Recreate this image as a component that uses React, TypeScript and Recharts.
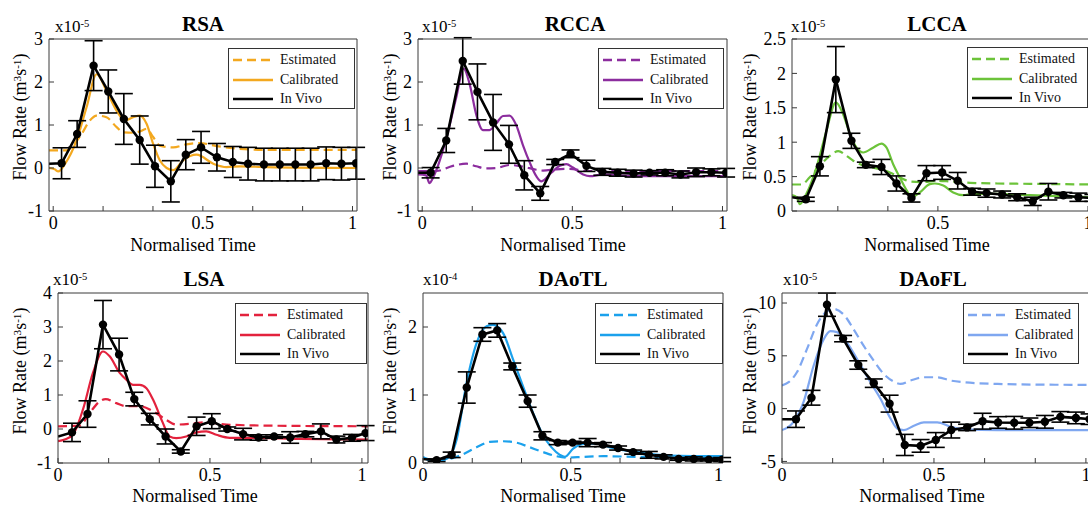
import React from 'react';
import { ComposedChart, Line, XAxis, YAxis, ErrorBar } from 'recharts';

const FONT = "'Liberation Serif', 'Times New Roman', Times, 'DejaVu Serif', serif";
const AXIS = '#3a3a3a';

// in vivo sample times
const T_TOP = [0.028, 0.08, 0.135, 0.184, 0.236, 0.289, 0.34, 0.393, 0.443, 0.494, 0.547, 0.6, 0.651, 0.704, 0.757, 0.809, 0.86, 0.912, 0.963, 1.012];
const T_LCCA = [0.06, 0.107, 0.16, 0.212, 0.26, 0.312, 0.362, 0.412, 0.462, 0.514, 0.566, 0.614, 0.662, 0.714, 0.764, 0.816, 0.868, 0.918, 0.968, 1.018];
const T_BOTTOM = [0.046, 0.097, 0.148, 0.201, 0.251, 0.302, 0.354, 0.404, 0.456, 0.506, 0.557, 0.609, 0.66, 0.711, 0.764, 0.814, 0.865, 0.916, 0.967, 1.012];

const X_TICKS = [0, 1 / 6, 2 / 6, 0.5, 4 / 6, 5 / 6, 1];

// RSA
const RSA_EST = [[-0.014, 0.41], [0.045, 0.41], [0.07, 0.55], [0.095, 0.79], [0.122, 1.1], [0.145, 1.22], [0.178, 1.18], [0.212, 0.95], [0.234, 0.83], [0.27, 0.82], [0.29, 0.85], [0.312, 0.91], [0.334, 0.72], [0.356, 0.52], [0.401, 0.48], [0.445, 0.55], [0.49, 0.58], [0.546, 0.51], [0.601, 0.46], [0.713, 0.42], [1.015, 0.42]];
const RSA_CAL = [[-0.014, 0], [0.005, -0.03], [0.017, -0.08], [0.04, 0.1], [0.078, 0.64], [0.111, 1.4], [0.145, 2.18], [0.178, 1.8], [0.212, 1.33], [0.239, 1.1], [0.267, 1.18], [0.29, 1.22], [0.312, 1.03], [0.334, 0.56], [0.356, 0.18], [0.379, 0], [0.401, -0.05], [0.434, 0.18], [0.479, 0.31], [0.535, 0.1], [0.579, 0.02], [0.624, 0.04], [0.713, 0.02], [1.015, 0]];
const RSA_VIVO = [0.11, 0.79, 2.38, 1.78, 1.14, 0.65, 0.04, -0.31, 0.31, 0.48, 0.25, 0.14, 0.1, 0.08, 0.08, 0.08, 0.08, 0.11, 0.1, 0.11];
const RSA_ERR = [0.36, 0.31, 0.58, 0.5, 0.59, 0.56, 0.49, 0.48, 0.35, 0.37, 0.32, 0.36, 0.38, 0.38, 0.38, 0.38, 0.38, 0.38, 0.38, 0.37];

// RCCA
const RCCA_EST = [[-0.014, -0.07], [0.047, -0.07], [0.102, 0.05], [0.147, 0.1], [0.18, 0.04], [0.213, -0.01], [0.247, 0], [0.291, 0.07], [0.336, 0.03], [0.38, -0.04], [0.402, -0.06], [0.447, -0.03], [0.491, -0.02], [0.547, -0.07], [1.015, -0.07]];
const RCCA_CAL = [[-0.014, -0.15], [0.013, -0.17], [0.024, -0.35], [0.041, -0.15], [0.08, 0.68], [0.113, 1.63], [0.138, 2.31], [0.158, 1.95], [0.18, 1.24], [0.202, 0.88], [0.224, 0.88], [0.247, 1.04], [0.269, 1.21], [0.291, 1.22], [0.313, 1.0], [0.336, 0.52], [0.358, 0.13], [0.38, -0.19], [0.397, -0.31], [0.43, -0.11], [0.458, 0.05], [0.48, 0.09], [0.502, 0.01], [0.536, -0.15], [0.558, -0.19], [0.602, -0.15], [0.713, -0.19], [1.015, -0.19]];
const RCCA_VIVO = [-0.11, 0.64, 2.49, 1.77, 1.06, 0.55, -0.17, -0.59, 0.14, 0.33, 0.05, -0.09, -0.11, -0.13, -0.11, -0.11, -0.15, -0.1, -0.1, -0.11];
const RCCA_ERR = [0.12, 0.28, 0.54, 0.65, 0.65, 0.44, 0.34, 0.16, 0.06, 0.09, 0.13, 0.08, 0.08, 0.08, 0.05, 0.07, 0.08, 0.1, 0.08, 0.1];

// LCCA
const LCCA_EST = [[0.014, 0.385], [0.046, 0.385], [0.073, 0.49], [0.107, 0.66], [0.14, 0.8], [0.168, 0.87], [0.196, 0.8], [0.218, 0.73], [0.246, 0.67], [0.273, 0.64], [0.307, 0.61], [0.34, 0.56], [0.373, 0.49], [0.407, 0.43], [0.451, 0.42], [0.496, 0.44], [0.54, 0.43], [0.607, 0.41], [0.696, 0.4], [0.807, 0.395], [1.02, 0.385]];
const LCCA_CAL = [[0.014, 0.23], [0.03, 0.2], [0.04, 0.1], [0.062, 0.25], [0.096, 0.64], [0.129, 1.17], [0.16, 1.58], [0.184, 1.41], [0.207, 1.12], [0.229, 0.92], [0.251, 0.85], [0.284, 0.92], [0.312, 0.98], [0.329, 0.92], [0.351, 0.68], [0.373, 0.49], [0.396, 0.3], [0.412, 0.2], [0.44, 0.27], [0.473, 0.39], [0.49, 0.4], [0.518, 0.37], [0.551, 0.27], [0.584, 0.23], [0.618, 0.25], [0.696, 0.25], [0.807, 0.23], [1.02, 0.2]];
const LCCA_VIVO = [0.17, 0.65, 1.91, 1.02, 0.67, 0.64, 0.4, 0.19, 0.55, 0.56, 0.44, 0.28, 0.26, 0.24, 0.2, 0.14, 0.28, 0.23, 0.2, 0.19];
const LCCA_ERR = [0.03, 0.14, 0.48, 0.11, 0.04, 0.11, 0.11, 0.06, 0.11, 0.1, 0.12, 0.05, 0.06, 0.05, 0.05, 0.06, 0.12, 0.04, 0.06, 0.05];

// LSA
const LSA_EST = [[0, 0.08], [0.071, 0.1], [0.104, 0.47], [0.137, 0.81], [0.157, 0.88], [0.192, 0.76], [0.225, 0.67], [0.269, 0.67], [0.313, 0.52], [0.356, 0.27], [0.389, 0.13], [0.444, 0.16], [0.488, 0.2], [0.554, 0.13], [0.685, 0.1], [1.02, 0.08]];
const LSA_CAL = [[0, -0.36], [0.022, -0.31], [0.049, -0.17], [0.082, 0.57], [0.115, 1.65], [0.148, 2.28], [0.17, 2.14], [0.203, 1.65], [0.225, 1.45], [0.247, 1.3], [0.269, 1.3], [0.291, 1.2], [0.313, 0.86], [0.345, 0.18], [0.367, -0.22], [0.389, -0.27], [0.422, -0.22], [0.455, -0.1], [0.488, -0.07], [0.521, -0.17], [0.565, -0.26], [0.63, -0.26], [0.795, -0.29], [1.02, -0.31]];
const LSA_VIVO = [-0.1, 0.44, 3.07, 2.19, 0.88, 0.29, -0.22, -0.66, 0.08, 0.23, 0, -0.15, -0.25, -0.22, -0.25, -0.15, -0.07, -0.31, -0.26, -0.12];
const LSA_ERR = [0.27, 0.39, 0.71, 0.48, 0.2, 0.17, 0.22, 0.05, 0.27, 0.22, 0.06, 0.17, 0.08, 0.05, 0.17, 0.08, 0.22, 0.1, 0.1, 0.22];

// DAoTL
const DTL_EST = [[0, 0.08], [0.045, 0.04], [0.09, 0.06], [0.136, 0.13], [0.181, 0.23], [0.226, 0.31], [0.271, 0.32], [0.316, 0.3], [0.362, 0.23], [0.407, 0.16], [0.452, 0.1], [0.486, 0.08], [0.542, 0.09], [0.61, 0.1], [0.723, 0.09], [1.015, 0.07]];
const DTL_CAL = [[0, 0.09], [0.028, 0.03], [0.079, 0.06], [0.113, 0.33], [0.147, 1.17], [0.181, 1.76], [0.215, 2.01], [0.237, 2.03], [0.271, 1.91], [0.305, 1.52], [0.339, 1.12], [0.373, 0.73], [0.407, 0.4], [0.435, 0.23], [0.463, 0.12], [0.48, 0.09], [0.508, 0.21], [0.542, 0.28], [0.588, 0.29], [0.633, 0.23], [0.723, 0.16], [0.836, 0.11], [1.015, 0.1]];
const DTL_VIVO = [0.04, 0.12, 1.11, 1.89, 1.95, 1.42, 0.91, 0.4, 0.3, 0.3, 0.3, 0.27, 0.22, 0.16, 0.12, 0.09, 0.06, 0.06, 0.05, 0.05];
const DTL_ERR = [0.02, 0.04, 0.23, 0.1, 0.1, 0.05, 0.09, 0.06, 0.03, 0.02, 0.06, 0.03, 0.03, 0.03, 0.05, 0.03, 0.02, 0.03, 0.02, 0.03];

// DAoFL
const DFL_EST = [[0, 2.19], [0.022, 2.5], [0.049, 3.44], [0.082, 5.63], [0.115, 7.97], [0.148, 9.22], [0.17, 9.44], [0.203, 8.9], [0.236, 7.5], [0.269, 5.94], [0.302, 4.53], [0.335, 3.28], [0.368, 2.56], [0.39, 2.34], [0.423, 2.66], [0.467, 2.97], [0.511, 2.97], [0.555, 2.66], [0.599, 2.5], [0.709, 2.34], [0.819, 2.28], [1.02, 2.25]];
const DFL_CAL = [[0, -2.03], [0.038, -1.25], [0.071, 0.63], [0.104, 4.06], [0.137, 6.56], [0.159, 7.34], [0.181, 7.25], [0.214, 6.25], [0.247, 4.69], [0.291, 2.5], [0.324, 0.94], [0.357, -0.94], [0.379, -1.88], [0.401, -2.03], [0.434, -1.63], [0.467, -1.31], [0.511, -1.31], [0.555, -1.72], [0.599, -1.97], [0.709, -2.03], [1.02, -2.03]];
const DFL_VIVO = [-1.0, 1.03, 9.84, 6.63, 4.13, 2.41, 0.47, -3.44, -3.53, -2.97, -2.03, -1.78, -1.19, -1.31, -1.34, -1.34, -1.25, -0.78, -0.88, -1.0];
const DFL_ERR = [0.78, 0.7, 1.1, 0.3, 0.4, 0.4, 0.8, 1.0, 0.6, 0.7, 0.75, 0.3, 0.75, 0.55, 0.6, 0.45, 0.6, 0.5, 0.55, 0.5];

const PANELS = [
  { name: 'RSA', color: '#F3A81F', exp: '-5', box: [49, 39, 357, 211], xDom: [-0.014, 1.015], yDom: [-1, 3], yTicks: [-1, 0, 1, 2, 3], est: RSA_EST, cal: RSA_CAL, times: T_TOP, vivo: RSA_VIVO, err: RSA_ERR, start: 0.1, titleX: 203, multX: 55, yLabX: 20, xLabX: 193, legend: [228, 48, 127] },
  { name: 'RCCA', color: '#8C2D9E', exp: '-5', box: [418, 39, 727, 211], xDom: [-0.014, 1.015], yDom: [-1, 3], yTicks: [-1, 0, 1, 2, 3], est: RCCA_EST, cal: RCCA_CAL, times: T_TOP, vivo: RCCA_VIVO, err: RCCA_ERR, start: -0.11, titleX: 575, multX: 422, yLabX: 390, xLabX: 563, legend: [598, 48, 126] },
  { name: 'LCCA', color: '#6CC33A', exp: '-5', box: [792, 39, 1094, 211], xDom: [0.014, 1.02], yDom: [0, 2.5], yTicks: [0, 0.5, 1, 1.5, 2, 2.5], est: LCCA_EST, cal: LCCA_CAL, times: T_LCCA, vivo: LCCA_VIVO, err: LCCA_ERR, start: 0.2, titleX: 937, multX: 791, yLabX: 750, xLabX: 927, legend: [967, 47, 121] },
  { name: 'LSA', color: '#E3223D', exp: '-5', box: [58, 293, 368, 463], xDom: [0, 1.02], yDom: [-1, 4], yTicks: [-1, 0, 1, 2, 3, 4], est: LSA_EST, cal: LSA_CAL, times: T_BOTTOM, vivo: LSA_VIVO, err: LSA_ERR, start: -0.22, titleX: 204, multX: 53, yLabX: 20, xLabX: 195, legend: [235, 303, 132] },
  { name: 'DAoTL', color: '#1BA1EC', exp: '-4', box: [423, 293, 723, 463], xDom: [0, 1.015], yDom: [0, 2.5], yTicks: [0, 1, 2], est: DTL_EST, cal: DTL_CAL, times: T_BOTTOM, vivo: DTL_VIVO, err: DTL_ERR, start: 0.06, titleX: 573, multX: 423, yLabX: 390, xLabX: 563, legend: [595, 303, 128] },
  { name: 'DAoFL', color: '#7FA7F0', exp: '-5', box: [782, 293, 1092, 463], xDom: [0, 1.02], yDom: [-5.15, 10.95], yTicks: [-5, 0, 5, 10], est: DFL_EST, cal: DFL_CAL, times: T_BOTTOM, vivo: DFL_VIVO, err: DFL_ERR, start: -1.0, titleX: 933, multX: 783, yLabX: 750, xLabX: 922, legend: [963, 303, 116] },
];

const fmtX = (v: number) => (Math.abs(v) < 1e-9 ? '0' : Math.abs(v - 0.5) < 1e-9 ? '0.5' : Math.abs(v - 1) < 1e-9 ? '1' : '');

const vivoDot = (p: any) =>
  p?.payload?.m ? <circle key={`d${p.index}`} cx={p.cx} cy={p.cy} r={4.2} fill="#000" /> : <g key={`d${p.index}`} />;

const supStyle = { fontSize: '0.62em', verticalAlign: 'top', position: 'relative' as const, top: -3 };

function LegendBox({ x, y, w, color }: { x: number; y: number; w: number; color: string }) {
  const rows: [string, string, string | undefined][] = [
    ['Estimated', color, '9 5'],
    ['Calibrated', color, undefined],
    ['In Vivo', '#000', undefined],
  ];
  return (
    <div style={{ position: 'absolute', left: x, top: y, width: w, height: 61, border: '1px solid #333', background: '#fff', boxSizing: 'border-box', fontFamily: FONT, fontSize: 14, color: '#111' }}>
      {rows.map(([label, c, dash], i) => (
        <div key={label} style={{ position: 'absolute', left: 4, top: 2 + i * 19.5, height: 18, display: 'flex', alignItems: 'center', whiteSpace: 'nowrap' }}>
          <svg width={40} height={6}>
            <line x1={0} x2={40} y1={3} y2={3} stroke={c} strokeWidth={2.6} strokeDasharray={dash} />
          </svg>
          <span style={{ marginLeft: 7 }}>{label}</span>
        </div>
      ))}
    </div>
  );
}

function Panel({ p }: { p: any }) {
  const [l, t, r, b] = p.box;
  const top = t < 200;
  const width = r - l + 70;
  const height = b - t + 50;
  const est = p.est.map(([x, v]: number[]) => ({ t: x, v }));
  const cal = p.cal.map(([x, v]: number[]) => ({ t: x, v }));
  const vivo = [{ t: p.xDom[0], v: p.start, m: false }, ...p.times.map((x: number, i: number) => ({ t: x, v: p.vivo[i], e: p.err[i], m: true }))];
  const xTicks = X_TICKS.filter((v) => v >= p.xDom[0] - 1e-9);
  const tickStyle = { fill: '#000', fontSize: 18, fontFamily: FONT };

  return (
    <>
      <div style={{ position: 'absolute', left: l - 60, top: t - 10 }}>
        <ComposedChart width={width} height={height} margin={{ top: 9, right: 9, left: 0, bottom: 0 }} style={{ fontFamily: FONT }}>
          <XAxis dataKey="t" type="number" domain={p.xDom} ticks={xTicks} interval={0} allowDataOverflow tickFormatter={fmtX} height={40} tickSize={-5} tickMargin={10} tick={tickStyle} axisLine={{ stroke: AXIS }} tickLine={{ stroke: AXIS }} />
          <XAxis xAxisId="top" orientation="top" dataKey="t" type="number" domain={p.xDom} ticks={xTicks} interval={0} allowDataOverflow height={1} tickSize={-5} tick={false} axisLine={{ stroke: AXIS }} tickLine={{ stroke: AXIS }} />
          <YAxis type="number" domain={p.yDom} ticks={p.yTicks} interval={0} allowDataOverflow width={60} tickSize={-5} tickMargin={11} tick={tickStyle} axisLine={{ stroke: AXIS }} tickLine={{ stroke: AXIS }} />
          <YAxis yAxisId="right" orientation="right" type="number" domain={p.yDom} ticks={p.yTicks} interval={0} allowDataOverflow width={1} tickSize={-5} tick={false} axisLine={{ stroke: AXIS }} tickLine={{ stroke: AXIS }} />
          <Line data={est} dataKey="v" type="monotone" stroke={p.color} strokeWidth={2.2} strokeDasharray="9 5" dot={false} activeDot={false} isAnimationActive={false} />
          <Line data={cal} dataKey="v" type="monotone" stroke={p.color} strokeWidth={2.2} dot={false} activeDot={false} isAnimationActive={false} />
          <Line data={vivo} dataKey="v" type="linear" stroke="#000" strokeWidth={2.6} dot={vivoDot} activeDot={false} isAnimationActive={false}>
            <ErrorBar dataKey="e" width={9} stroke="#000" strokeWidth={1.6} />
          </Line>
        </ComposedChart>
      </div>
      <div style={{ position: 'absolute', left: p.titleX, top: top ? 14 : 269, transform: 'translateX(-50%)', fontFamily: FONT, fontWeight: 'bold', fontSize: 21, lineHeight: '21px', whiteSpace: 'nowrap' }}>{p.name}</div>
      <div style={{ position: 'absolute', left: p.multX, top: top ? 18 : 271, fontFamily: FONT, fontSize: 17, lineHeight: '17px', whiteSpace: 'nowrap' }}>
        x10<sup style={supStyle}>{p.exp}</sup>
      </div>
      <div style={{ position: 'absolute', left: p.yLabX, top: top ? 117 : 371, transform: 'translate(-50%, -50%) rotate(-90deg)', fontFamily: FONT, fontSize: 18, lineHeight: '18px', whiteSpace: 'nowrap' }}>
        Flow Rate (m<sup style={supStyle}>3</sup>s<sup style={supStyle}>-1</sup>)
      </div>
      <div style={{ position: 'absolute', left: p.xLabX, top: top ? 236 : 487, transform: 'translateX(-50%)', fontFamily: FONT, fontSize: 18, lineHeight: '18px', whiteSpace: 'nowrap' }}>Normalised Time</div>
      <LegendBox x={p.legend[0]} y={p.legend[1]} w={p.legend[2]} color={p.color} />
    </>
  );
}

export default function App() {
  return (
    <div style={{ position: 'absolute', left: 0, top: 0, width: 1088, height: 506, overflow: 'hidden', background: '#fff', fontFamily: FONT }}>
      {PANELS.map((p) => (
        <Panel key={p.name} p={p} />
      ))}
    </div>
  );
}
